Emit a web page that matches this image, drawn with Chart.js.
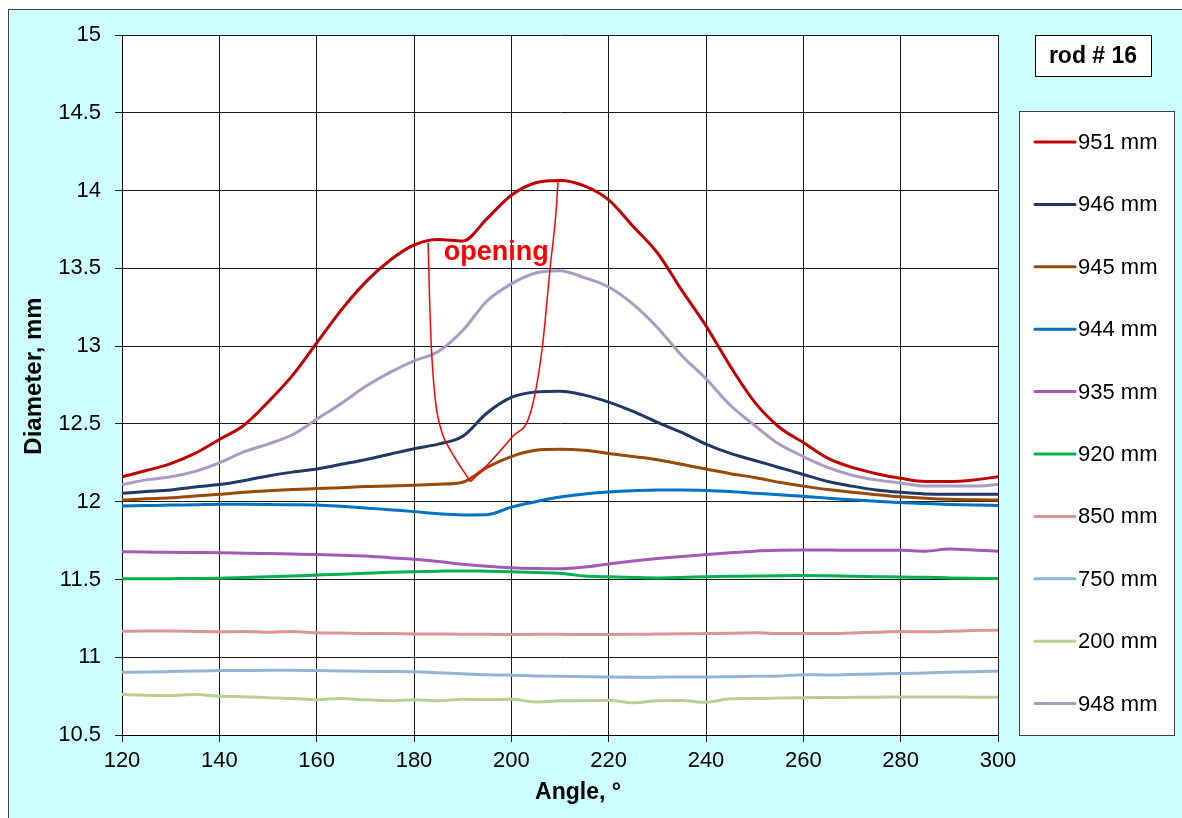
<!DOCTYPE html>
<html lang="en">
<head>
<meta charset="UTF-8" />
<title>rod # 16</title>
<script src="https://cdn.jsdelivr.net/npm/chart.js"></script>
<style>
  html, body { margin: 0; padding: 0; background: #ffffff; }
  #grafico { display: block; }
</style>
</head>
<body>
<canvas id="grafico" width="1182" height="818"></canvas>
<script>
  // angulos medidos (graus)
  var angles = [120, 125, 130, 135, 140, 145, 150, 155, 160, 165, 170, 175, 180, 185, 190, 195, 200, 205, 210,
    215, 220, 225, 230, 235, 240, 245, 250, 255, 260, 265, 270, 275, 280, 285, 290, 295, 300];

  // diametro (mm) em cada altura
  var d951 = [12.16, 12.20, 12.245, 12.31, 12.40, 12.49, 12.64, 12.81, 13.02, 13.23, 13.41, 13.55, 13.65, 13.685, 13.675, 13.82, 13.97, 14.05, 14.065,
    14.03, 13.94, 13.77, 13.60, 13.36, 13.13, 12.87, 12.64, 12.48, 12.38, 12.28, 12.22, 12.18, 12.15, 12.13, 12.13, 12.14, 12.16];
  var d946 = [12.054, 12.065, 12.075, 12.095, 12.11, 12.135, 12.165, 12.19, 12.21, 12.24, 12.27, 12.305, 12.34, 12.37, 12.42, 12.57, 12.67, 12.705, 12.71,
    12.685, 12.64, 12.58, 12.51, 12.445, 12.37, 12.31, 12.265, 12.22, 12.175, 12.13, 12.10, 12.075, 12.06, 12.05, 12.047, 12.047, 12.047];
  var d945 = [12.01, 12.018, 12.025, 12.036, 12.047, 12.06, 12.07, 12.078, 12.084, 12.09, 12.097, 12.10, 12.105, 12.112, 12.125, 12.22, 12.29, 12.33, 12.337,
    12.33, 12.31, 12.29, 12.27, 12.24, 12.21, 12.18, 12.155, 12.125, 12.10, 12.078, 12.06, 12.045, 12.032, 12.022, 12.015, 12.012, 12.01];
  var d944 = [11.972, 11.975, 11.978, 11.98, 11.983, 11.983, 11.982, 11.98, 11.978, 11.97, 11.96, 11.948, 11.936, 11.922, 11.915, 11.916, 11.965, 12.00, 12.03,
    12.05, 12.062, 12.07, 12.075, 12.075, 12.072, 12.065, 12.054, 12.045, 12.035, 12.022, 12.012, 12.003, 11.994, 11.988, 11.982, 11.978, 11.976];
  var d935 = [11.678, 11.676, 11.675, 11.673, 11.672, 11.669, 11.666, 11.663, 11.66, 11.655, 11.65, 11.64, 11.63, 11.615, 11.598, 11.585, 11.575, 11.57, 11.569,
    11.58, 11.60, 11.618, 11.634, 11.648, 11.66, 11.672, 11.682, 11.687, 11.689, 11.689, 11.688, 11.687, 11.687, 11.682, 11.695, 11.69, 11.682];
  var d920 = [11.504, 11.504, 11.505, 11.506, 11.508, 11.512, 11.517, 11.522, 11.528, 11.534, 11.54, 11.546, 11.55, 11.553, 11.555, 11.553, 11.55, 11.545, 11.54,
    11.522, 11.517, 11.513, 11.51, 11.513, 11.517, 11.52, 11.522, 11.524, 11.525, 11.523, 11.52, 11.518, 11.515, 11.514, 11.51, 11.507, 11.506];
  var d850 = [11.167, 11.168, 11.168, 11.166, 11.163, 11.165, 11.161, 11.166, 11.157, 11.155, 11.153, 11.152, 11.15, 11.149, 11.148, 11.147, 11.146, 11.147, 11.147,
    11.146, 11.146, 11.147, 11.149, 11.151, 11.152, 11.154, 11.157, 11.153, 11.152, 11.152, 11.156, 11.161, 11.165, 11.164, 11.167, 11.171, 11.174];
  var d750 = [10.903, 10.905, 10.908, 10.911, 10.914, 10.915, 10.916, 10.916, 10.914, 10.912, 10.91, 10.908, 10.906, 10.90, 10.893, 10.887, 10.884, 10.88, 10.877,
    10.875, 10.873, 10.872, 10.872, 10.873, 10.873, 10.875, 10.877, 10.879, 10.888, 10.886, 10.889, 10.892, 10.895, 10.899, 10.903, 10.907, 10.91];
  var d200 = [10.76, 10.756, 10.754, 10.76, 10.749, 10.746, 10.74, 10.735, 10.727, 10.735, 10.726, 10.72, 10.727, 10.72, 10.73, 10.728, 10.73, 10.712, 10.72,
    10.72, 10.723, 10.707, 10.72, 10.722, 10.71, 10.733, 10.735, 10.738, 10.74, 10.741, 10.742, 10.743, 10.745, 10.744, 10.744, 10.743, 10.743];
  var d948 = [12.11, 12.14, 12.16, 12.195, 12.25, 12.32, 12.37, 12.43, 12.53, 12.63, 12.74, 12.83, 12.905, 12.965, 13.10, 13.29, 13.40, 13.47, 13.485,
    13.44, 13.38, 13.27, 13.12, 12.94, 12.79, 12.62, 12.49, 12.37, 12.29, 12.22, 12.17, 12.14, 12.12, 12.10, 12.10, 12.10, 12.11];

  var series_labels = ["951 mm", "946 mm", "945 mm", "944 mm", "935 mm", "920 mm", "850 mm", "750 mm", "200 mm", "948 mm"];
  var series_values = [d951, d946, d945, d944, d935, d920, d850, d750, d200, d948];
  var series_colors = ["#C00000", "#1F3864", "#984807", "#0070C0", "#A35AB6", "#00B050", "#DA9694", "#95B3D7", "#B8CF92", "#A99BC1"];

  // contorno da abertura (dois lados do "V")
  var opening_left_angles = [182.9, 183.2, 183.6, 184.4, 185.8, 187.5, 191.6];
  var opening_left_values = [13.665, 13.30, 12.975, 12.65, 12.44, 12.33, 12.128];
  var opening_right_angles = [191.6, 195.4, 200.2, 203.9, 206.3, 208.0, 209.1, 209.6];
  var opening_right_values = [12.128, 12.247, 12.417, 12.568, 12.975, 13.51, 13.83, 14.057];
  var opening_label = { text: "opening", angle: 196.9, value: 13.60 };

  var x_ticks = [120, 140, 160, 180, 200, 220, 240, 260, 280, 300];
  var y_ticks = [10.5, 11, 11.5, 12, 12.5, 13, 13.5, 14, 14.5, 15];

  var fonte = "'Liberation Sans', Arial, sans-serif";

  function pontos(xs, ys) {
    return xs.map(function (x, i) { return { x: x, y: ys[i] }; });
  }

  var datasets = series_labels.map(function (label, i) {
    return {
      label: label,
      data: pontos(angles, series_values[i]),
      borderColor: series_colors[i],
      backgroundColor: series_colors[i],
      borderWidth: 3,
      pointRadius: 0,
      cubicInterpolationMode: "monotone",
      fill: false,
      order: 10 - i,
    };
  });

  [pontos(opening_left_angles, opening_left_values), pontos(opening_right_angles, opening_right_values)].forEach(function (lado) {
    datasets.push({
      label: "",
      abertura: true,
      data: lado,
      borderColor: "#FF0000",
      borderWidth: 1.5,
      pointRadius: 0,
      cubicInterpolationMode: "monotone",
      fill: false,
      order: 0,
    });
  });

  // fundo, legenda, caixa do titulo e rotulos
  var desenho_extra = {
    id: "desenho_extra",
    beforeDraw: function (chart) {
      var ctx = chart.ctx;
      var area = chart.chartArea;
      ctx.save();
      ctx.fillStyle = "#ffffff";
      ctx.fillRect(0, 0, chart.width, chart.height);
      ctx.fillStyle = "#CCFFFF";
      ctx.fillRect(8, 9, chart.width, chart.height);
      ctx.strokeStyle = "#404040";
      ctx.lineWidth = 1;
      ctx.strokeRect(8.5, 9.5, chart.width + 10, chart.height + 10);
      ctx.fillStyle = "#ffffff";
      ctx.fillRect(area.left, area.top, area.right - area.left, area.bottom - area.top);
      ctx.restore();
    },
    afterDatasetsDraw: function (chart) {
      var ctx = chart.ctx;
      var x = chart.scales.x.getPixelForValue(opening_label.angle);
      var y = chart.scales.y.getPixelForValue(opening_label.value);
      ctx.save();
      ctx.font = "bold 27px " + fonte;
      ctx.fillStyle = "#FF0000";
      ctx.textAlign = "center";
      ctx.textBaseline = "middle";
      ctx.fillText(opening_label.text, x, y);
      ctx.restore();
    },
    afterDraw: function (chart) {
      var ctx = chart.ctx;
      ctx.save();

      // titulos dos eixos
      ctx.fillStyle = "#000000";
      ctx.font = "bold 23px " + fonte;
      ctx.textAlign = "center";
      ctx.textBaseline = "middle";
      ctx.fillText("Angle, °", 578, 793);
      ctx.font = "bold 24px " + fonte;
      ctx.translate(34, 376);
      ctx.rotate(-Math.PI / 2);
      ctx.fillText("Diameter, mm", 0, 0);
      ctx.setTransform(1, 0, 0, 1, 0, 0);

      // caixa "rod # 16"
      ctx.fillStyle = "#ffffff";
      ctx.fillRect(1035, 35, 116, 41);
      ctx.strokeStyle = "#000000";
      ctx.lineWidth = 1;
      ctx.strokeRect(1035.5, 35.5, 116, 41);
      ctx.fillStyle = "#000000";
      ctx.font = "bold 23px " + fonte;
      ctx.fillText("rod # 16", 1093, 57);

      // legenda
      var caixa = { left: 1019, top: 111, width: 155, height: 624 };
      ctx.fillStyle = "#ffffff";
      ctx.fillRect(caixa.left, caixa.top, caixa.width, caixa.height);
      ctx.strokeStyle = "#404040";
      ctx.strokeRect(caixa.left + 0.5, caixa.top + 0.5, caixa.width, caixa.height);
      ctx.font = "22px " + fonte;
      ctx.textAlign = "left";
      ctx.lineCap = "round";
      var itens = chart.data.datasets.filter(function (ds) { return !ds.abertura; });
      itens.forEach(function (ds, i) {
        var yy = 142 + i * 62.4;
        ctx.strokeStyle = ds.borderColor;
        ctx.lineWidth = 3;
        ctx.beginPath();
        ctx.moveTo(1035, yy);
        ctx.lineTo(1075, yy);
        ctx.stroke();
        ctx.fillStyle = "#000000";
        ctx.fillText(ds.label, 1078, yy + 1);
      });
      ctx.restore();
    },
  };

  new Chart(document.getElementById("grafico"), {
    type: "line",
    data: { datasets: datasets },
    options: {
      responsive: false,
      devicePixelRatio: 1,
      animation: false,
      layout: { padding: { left: 0, top: 35, right: 184, bottom: 0 } },
      plugins: {
        legend: { display: false },
        tooltip: { enabled: false },
      },
      scales: {
        x: {
          type: "linear",
          min: 120,
          max: 300,
          afterBuildTicks: function (scale) {
            scale.ticks = x_ticks.map(function (v) { return { value: v }; });
          },
          afterFit: function (scale) { scale.height = 83; },
          grid: { color: "#1a1a1a", lineWidth: 1, tickLength: 7, tickColor: "#1a1a1a" },
          border: { color: "#000000", width: 1 },
          ticks: {
            color: "#000000",
            font: { family: fonte, size: 22 },
            padding: 6,
            maxRotation: 0,
            callback: function (v) { return String(v); },
          },
        },
        y: {
          type: "linear",
          min: 10.5,
          max: 15,
          afterBuildTicks: function (scale) {
            scale.ticks = y_ticks.map(function (v) { return { value: v }; });
          },
          afterFit: function (scale) { scale.width = 122; },
          grid: { color: "#1a1a1a", lineWidth: 1, tickLength: 7, tickColor: "#1a1a1a" },
          border: { color: "#000000", width: 1 },
          ticks: {
            color: "#000000",
            font: { family: fonte, size: 22 },
            padding: 14,
            callback: function (v) { return String(v); },
          },
        },
      },
    },
    plugins: [desenho_extra],
  });
</script>
</body>
</html>
